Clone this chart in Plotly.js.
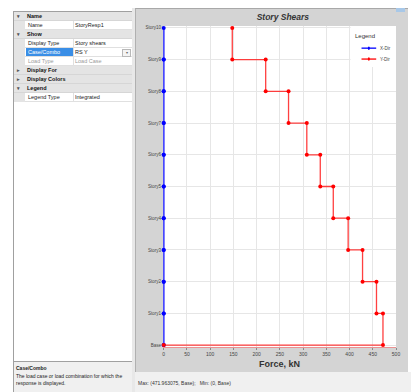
<!DOCTYPE html>
<html>
<head>
<meta charset="utf-8">
<script src="https://cdn.plot.ly/plotly-3.0.1.min.js"></script>
<style>
  html, body { margin:0; padding:0; width:411px; height:392px; overflow:hidden; background:#ffffff; font-family:"Liberation Sans", Arial, sans-serif; }
  #left { position:absolute; left:13px; top:11px; width:118px; height:380px; border-left:1px solid #a0a0a0; border-top:1px solid #a0a0a0; border-right:1px solid #a0a0a0; background:#ffffff; }
  .row { position:absolute; left:0; width:118px; height:9px; font-size:5.5px; line-height:9px; }
  .hdr { background:#e4e4e4; font-weight:bold; color:#111; border-bottom:1px solid #d6d6d6; box-sizing:border-box; }
  .prop { background:#ffffff; border-bottom:1px solid #e0e0e0; box-sizing:border-box; }
  .prop .gut { position:absolute; left:0; top:0; width:11px; height:9px; background:#e4e4e4; }
  .prop .lab { position:absolute; left:12px; top:0; width:45px; height:8px; padding-left:2px; color:#222; border-right:1px solid #e0e0e0; }
  .prop .val { position:absolute; left:60px; top:0; width:56px; height:8px; padding-left:1px; color:#222; }
  .arrow { position:absolute; left:3px; font-size:5px; color:#555; }
  .htxt { position:absolute; left:13px; }
  #desc { position:absolute; left:13px; top:361px; width:119px; height:30px; background:#f0f0f0; border-top:1px solid #a0a0a0; border-left:1px solid #a0a0a0; font-size:5px; color:#222; }
  #chartwrap { position:absolute; left:135px; top:8px; width:272px; height:363px; background:#d4d4d4; border-top:1px solid #a8a8a8; border-left:1px solid #b0b0b0; }
  #plot { position:absolute; left:0; top:0; width:272px; height:363px; }
  #status { position:absolute; left:135px; top:372px; width:276px; height:20px; background:#f0f0f0; font-size:5px; color:#333; line-height:22px; padding-left:3px; box-sizing:border-box; }
  #divider { position:absolute; left:132px; top:8px; width:3px; height:384px; background:#e8e8e8; }
  #scrollmark { position:absolute; left:396px; top:8px; width:9px; height:4px; background:#a8c8e8; }
</style>
</head>
<body>
<div id="left">
  <div class="row hdr" style="top:0px"><span class="arrow">&#9662;</span><span class="htxt">Name</span></div>
  <div class="row prop" style="top:9px"><div class="gut"></div><div class="lab">Name</div><div class="val">StoryResp1</div></div>
  <div class="row hdr" style="top:18px"><span class="arrow">&#9662;</span><span class="htxt">Show</span></div>
  <div class="row prop" style="top:27px"><div class="gut"></div><div class="lab">Display Type</div><div class="val">Story shears</div></div>
  <div class="row prop" style="top:36px"><div class="gut"></div><div class="lab" style="background:#3a8ee6;color:#fff;">Case/Combo</div><div class="val">RS Y<span style="position:absolute;left:48px;top:1px;width:7px;height:6px;border:1px solid #b8b8b8;background:#f4f4f4;font-size:4px;line-height:6px;text-align:center;color:#666;">&#9662;</span></div></div>
  <div class="row prop" style="top:45px"><div class="gut"></div><div class="lab" style="color:#9a9a9a">Load Type</div><div class="val" style="color:#9a9a9a">Load Case</div></div>
  <div class="row hdr" style="top:54px"><span class="arrow">&#9656;</span><span class="htxt">Display For</span></div>
  <div class="row hdr" style="top:63px"><span class="arrow">&#9656;</span><span class="htxt">Display Colors</span></div>
  <div class="row hdr" style="top:72px"><span class="arrow">&#9662;</span><span class="htxt">Legend</span></div>
  <div class="row prop" style="top:81px"><div class="gut"></div><div class="lab">Legend Type</div><div class="val">Integrated</div></div>
</div>
<div id="desc">
  <div style="position:absolute;left:2px;top:3px;font-weight:bold;">Case/Combo</div>
  <div style="position:absolute;left:2px;top:11px;width:115px;line-height:7px;">The load case or load combination for which the response is displayed.</div>
</div>
<div id="divider"></div>
<div id="chartwrap"><div id="plot"></div></div>
<div id="scrollmark"></div>
<div id="status">Max: (471.963075, Base);&nbsp;&nbsp; Min: (0, Base)</div>
<script>
// ---- data ----
const storyLabels = ["Base","Story1","Story2","Story3","Story4","Story5","Story6","Story7","Story8","Story9","Story10"];
const storyLevels = [0,1,2,3,4,5,6,7,8,9,10];
// story shear per story (Story1 .. Story10), kN
const yDirShear = [471.96, 458, 428, 397, 365, 337, 308, 268.7, 219.5, 147.6];
const xDirShear = [0, 0, 0, 0, 0, 0, 0, 0, 0, 0];
const xTickVals = [0,50,100,150,200,250,300,350,400,450,500];
const seriesNames = ["X-Dir", "Y-Dir"];
const seriesColors = ["#0000ff", "#ff0000"];

// build step lines (top to bottom) from the per-story shears
function stepLine(shear) {
  const xs = [], ys = [];
  for (let i = shear.length - 1; i >= 0; i--) {
    const top = storyLevels[i + 1], bot = storyLevels[i];
    xs.push(shear[i]); ys.push(top);
    xs.push(shear[i]); ys.push(bot);
  }
  xs.push(0); ys.push(storyLevels[0]);
  return {x: xs, y: ys};
}
const sx = stepLine(xDirShear);
const sy = stepLine(yDirShear);

const traces = [
  {x: sx.x, y: sx.y, name: seriesNames[0], mode: "lines+markers", showlegend: false, cliponaxis: false,
   line: {color: "rgba(40,40,255,0.85)", width: 2}, marker: {color: seriesColors[0], size: 4}},
  {x: sy.x, y: sy.y, name: seriesNames[1], mode: "lines+markers", showlegend: false, cliponaxis: false,
   line: {color: "rgba(255,30,30,0.85)", width: 1.3}, marker: {color: seriesColors[1], size: 4}}
];

// custom compact legend (ETABS style)
const legShapes = [
  {type: "rect", xref: "paper", yref: "paper", x0: 0.805, x1: 1, y0: 0.872, y1: 1,
   fillcolor: "#ffffff", line: {width: 0}, layer: "above"}
];
const legAnn = [
  {xref: "paper", yref: "paper", x: 0.815, y: 0.969, xanchor: "left", yanchor: "middle",
   text: "Legend", showarrow: false, font: {size: 6, color: "#333"}}
];
seriesNames.forEach((nm, k) => {
  const yy = 0.931 - k * 0.034;
  legShapes.push({type: "line", xref: "paper", yref: "paper", x0: 0.852, x1: 0.915, y0: yy, y1: yy,
                  line: {color: seriesColors[k], width: 1.3}, layer: "above"});
  legShapes.push({type: "circle", xref: "paper", yref: "paper", x0: 0.879, x1: 0.888, y0: yy - 0.0055, y1: yy + 0.0055,
                  fillcolor: seriesColors[k], line: {width: 0}, layer: "above"});
  legAnn.push({xref: "paper", yref: "paper", x: 0.922, y: yy, xanchor: "left", yanchor: "middle",
               text: nm, showarrow: false, font: {size: 4.5, color: "#444"}});
});

const layout = {
  width: 272, height: 363,
  margin: {l: 27, r: 12, t: 17, b: 25},
  paper_bgcolor: "rgba(0,0,0,0)",
  plot_bgcolor: "#ffffff",
  font: {family: "Liberation Sans, Arial, sans-serif", size: 5, color: "#444"},
  title: {text: "<b><i>Story Shears</i></b>", x: 0.54, xanchor: "center", y: 0.985, yanchor: "top",
          font: {size: 8.5, color: "#333"}},
  xaxis: {range: [-1.5, 500], tickvals: xTickVals, ticktext: xTickVals.map(String),
          showgrid: true, gridcolor: "#e6e6e6", gridwidth: 1, zeroline: false,
          showline: true, linecolor: "rgba(255,80,80,0.5)", linewidth: 1,
          ticks: "outside", ticklen: 2, tickcolor: "#888", tickfont: {size: 5, color: "#444"},
          title: {text: "<b>Force, kN</b>", font: {size: 9, color: "#333"}, standoff: 4}},
  yaxis: {range: [-0.06, 10.06], tickvals: storyLevels, ticktext: storyLabels,
          showgrid: true, gridcolor: "#e6e6e6", gridwidth: 1, zeroline: false,
          ticks: "", ticklabelstandoff: 1, tickfont: {size: 4.5, color: "#444"}},
  showlegend: false,
  shapes: legShapes,
  annotations: legAnn
};

Plotly.newPlot("plot", traces, layout, {displayModeBar: false, staticPlot: true});
</script>
</body>
</html>
